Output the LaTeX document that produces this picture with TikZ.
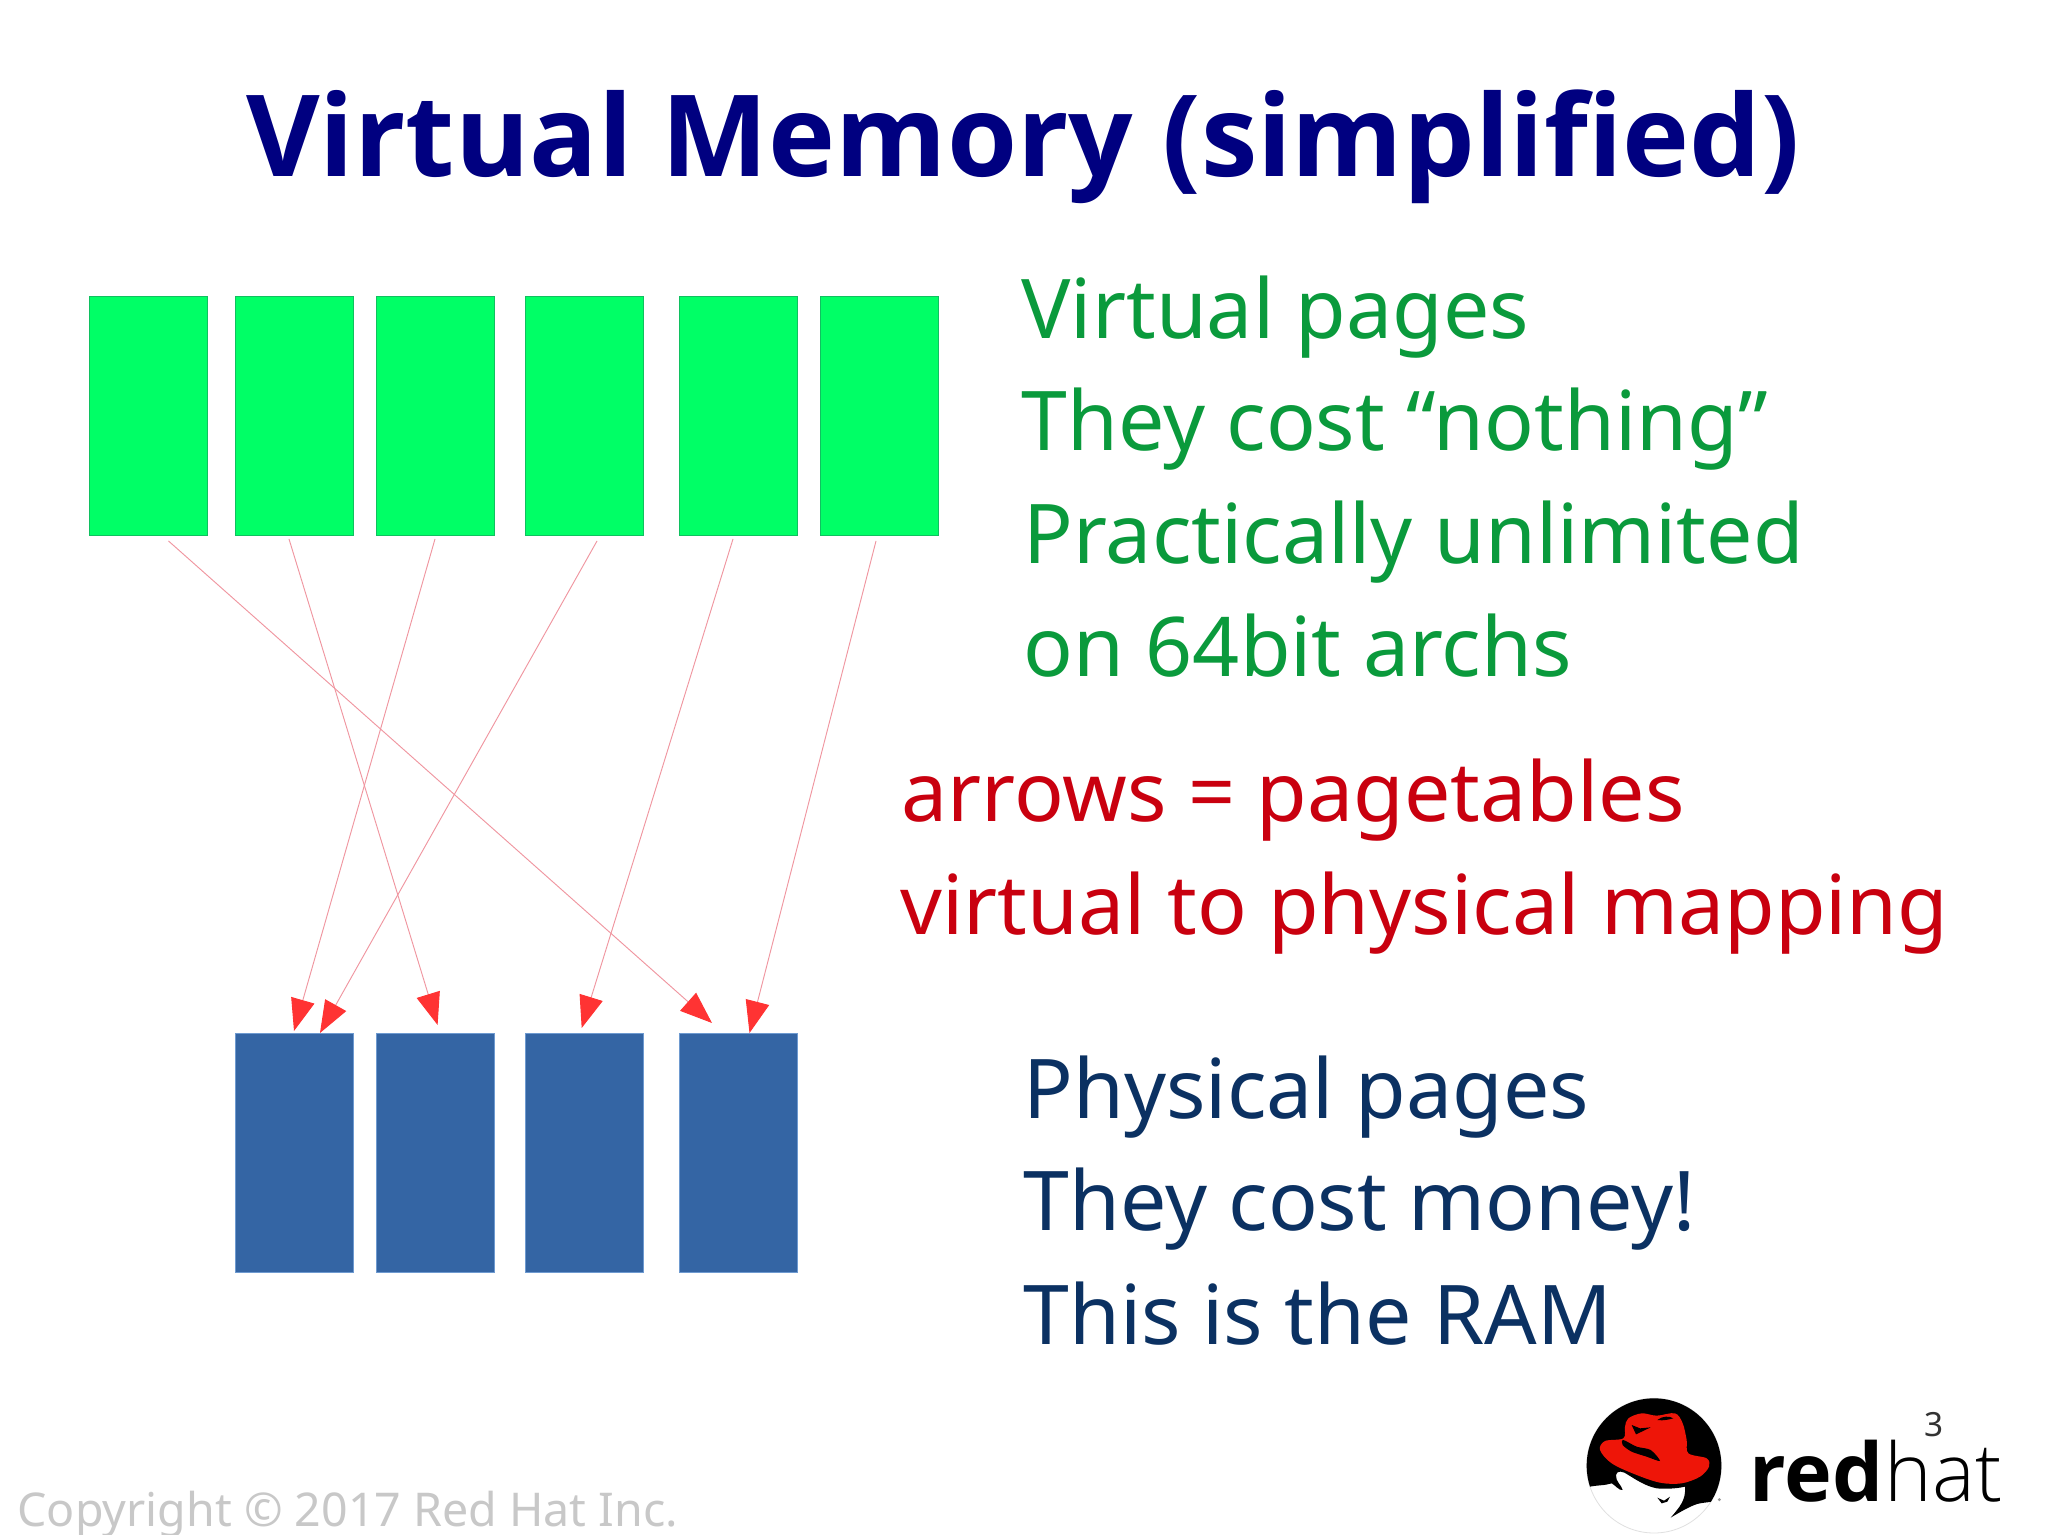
\documentclass[tikz,border=0pt]{standalone}
\usepackage{fontspec}
\setmainfont{Noto Sans}
\newfontfamily\titlefont{Open Sans}[BoldFont=* Bold]
\newfontfamily\hatlight{Open Sans Light}
\newfontfamily\hatbold{Open Sans}[BoldFont=* Bold]
\usetikzlibrary{arrows.meta}
\definecolor{titlecol}{HTML}{000080}
\definecolor{greentxt}{HTML}{0A9A3C}
\definecolor{redtxt}{HTML}{C9000F}
\definecolor{navytxt}{HTML}{0B3162}
\definecolor{vfill}{HTML}{00FF66}
\definecolor{vedge}{HTML}{10C060}
\definecolor{pfill}{HTML}{3465A4}
\definecolor{pedge}{HTML}{6E9AD0}
\definecolor{linkcol}{HTML}{F096A0}
\definecolor{headcol}{HTML}{FF3333}
\definecolor{hatred}{HTML}{EE1508}
\definecolor{copycol}{HTML}{C8C8C8}
\tikzset{
  vpage/.style={draw=vedge,fill=vfill,line width=.4pt,minimum width=44.2pt,minimum height=89.6pt,inner sep=0pt,anchor=north west},
  ppage/.style={draw=pedge,fill=pfill,line width=.4pt,minimum width=44.2pt,minimum height=89.6pt,inner sep=0pt,anchor=north west},
  body/.style={anchor=base west,inner sep=0pt,font=\fontsize{30.9pt}{36pt}\selectfont},
  link/.style={draw=linkcol,line width=.35pt,-{Triangle[length=12pt,width=9pt,fill=headcol,color=headcol]}},
}
\begin{document}
\begin{tikzpicture}[x=0.375pt,y=-0.375pt]
\useasboundingbox (0,0) rectangle (2048,1535);
\fill[white] (0,0) rectangle (2048,1535);

\node[anchor=base,inner sep=0pt,text=titlecol,font=\fontsize{42.5pt}{50pt}\selectfont\titlefont\bfseries] (title) at (1023,177) {Virtual Memory (simplified)};

\node[vpage] (g1) at (89,296) {};
\node[vpage] (g2) at (235,296) {};
\node[vpage] (g3) at (376,296) {};
\node[vpage] (g4) at (525,296) {};
\node[vpage] (g5) at (679,296) {};
\node[vpage] (g6) at (820,296) {};

\node[ppage] (b1) at (235,1033) {};
\node[ppage] (b2) at (376,1033) {};
\node[ppage] (b3) at (525,1033) {};
\node[ppage] (b4) at (679,1033) {};

\coordinate (s1) at (168.5,541);
\coordinate (s2) at (289,539);
\coordinate (s3) at (435,539);
\coordinate (s4) at (597,541);
\coordinate (s5) at (733,539);
\coordinate (s6) at (876,541);
\coordinate (t1) at (712,1023);
\coordinate (t2) at (437.6,1025);
\coordinate (t3) at (294,1031);
\coordinate (t4) at (320,1033);
\coordinate (t5) at (581.7,1028);
\coordinate (t6) at (749.5,1033);
\foreach \i in {1,...,6} {\draw[link] (s\i) -- (t\i);}

\node[body,text=greentxt] (v1) at (1021,339) {Virtual pages};
\node[body,text=greentxt] (v2) at (1021,451) {They cost “nothing”};
\node[body,text=greentxt] (v3) at (1023,564) {Practically unlimited};
\node[body,text=greentxt] (v4) at (1023,677) {on 64bit archs};
\node[body,text=redtxt] (a1) at (901,821) {arrows = pagetables};
\node[body,text=redtxt] (a2) at (900,934) {virtual to physical mapping};
\node[body,text=navytxt] (p1) at (1023,1118) {Physical pages};
\node[body,text=navytxt] (p2) at (1023,1230) {They cost money!};
\node[body,text=navytxt] (p3) at (1023,1344) {This is the RAM};

\node[anchor=base west,inner sep=0pt,text=copycol,font=\fontsize{17.45pt}{20pt}\selectfont] (copy) at (17,1526) {Copyright © 2017 Red Hat Inc.};

\begin{scope}[shift={(1560,1385)},x=0.125pt,y=-0.125pt]
  \fill[white] (282,242) circle [radius=202];
  \draw[black!12,line width=.3pt] (282,242) circle [radius=202];
  \begin{scope}
    \clip (282,242) circle [radius=202];
    \fill[black] (60,20) -- (510,20) -- (510,345) -- (475,345)
      .. controls (455,352) and (435,352) .. (420,355)
      .. controls (400,358) and (365,378) .. (332,398)
      .. controls (360,365) and (378,345) .. (375,305)
      .. controls (345,312) and (310,312) .. (290,310)
      .. controls (255,303) and (225,282) .. (205,270)
      .. controls (190,258) and (170,255) .. (168,270)
      .. controls (166,290) and (185,300) .. (188,315)
      .. controls (178,318) and (165,300) .. (155,295)
      .. controls (135,302) and (110,300) .. (85,306) -- (60,306) -- cycle;
  \end{scope}
  \fill[black] (292,338) -- (312,347) -- (330,335) -- (322,350) -- (305,355) -- cycle;
  \fill[hatred] plot[smooth cycle,tension=.55] coordinates {(205,100) (245,85) (290,92) (345,85) (368,115) (380,165) (385,205) (440,220) (447,245) (420,275) (365,295) (300,293) (225,268) (155,235) (120,195) (135,168) (190,160) (195,125)};
  \fill[black] plot[smooth cycle,tension=.5] coordinates {(190,165) (230,185) (272,195) (300,228) (260,215) (215,200) (188,180)};
  \fill[black] (215,120) -- (240,130) -- (272,127) -- (245,140) -- (228,148) -- cycle;
  \fill[black] (292,105) .. controls (308,92) and (328,93) .. (340,100) .. controls (328,103) and (310,108) .. (292,105) -- cycle;
  \fill[black!40] (478,344) circle [radius=5];
  \fill[black!40] (1284,342) circle [radius=5];
\end{scope}

\node[anchor=base west,inner sep=0pt,font=\fontsize{30.3pt}{32pt}\selectfont\hatbold\bfseries,text=black] (rd) at (1749,1501) {red};
\node[anchor=base west,inner sep=0pt,font=\fontsize{30.3pt}{32pt}\selectfont\hatlight,text=black] (ht) at (rd.base east) {hat};
\node[anchor=base,inner sep=0pt,font=\fontsize{12.5pt}{14pt}\selectfont,text=black!80] (num) at (1934,1436) {3};
\end{tikzpicture}
\end{document}
